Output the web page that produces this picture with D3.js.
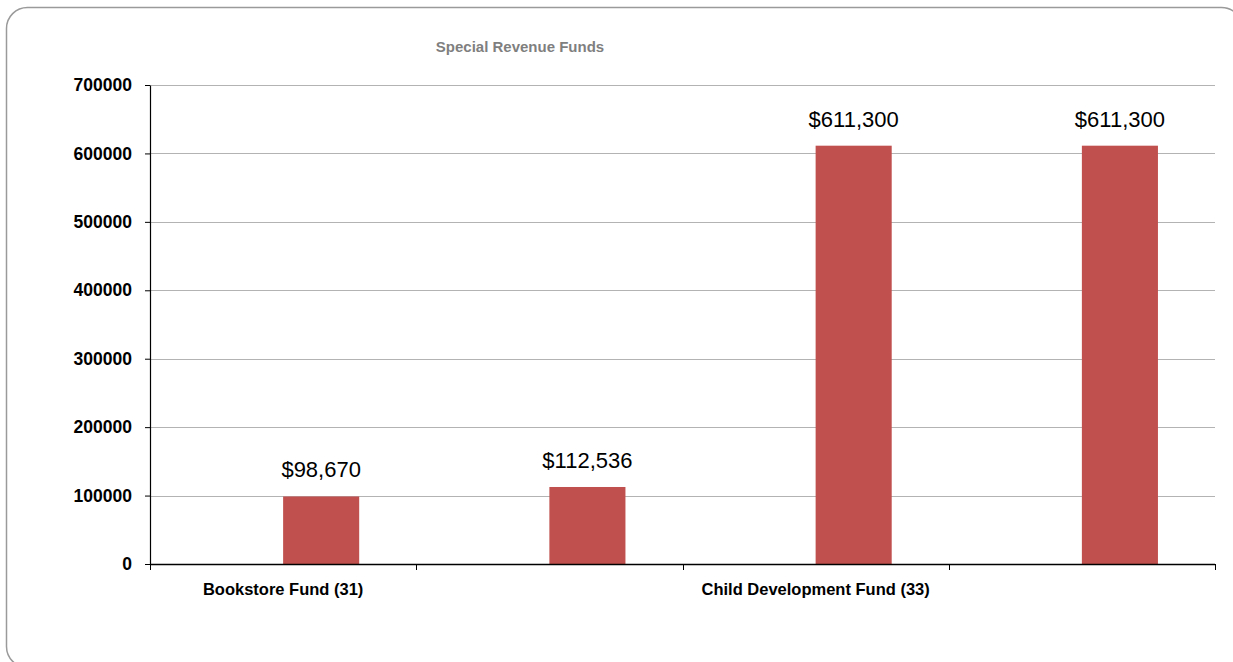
<!DOCTYPE html>
<html>
<head>
<meta charset="utf-8">
<script src="https://cdn.jsdelivr.net/npm/d3@7"></script>
<style>
  html, body { margin: 0; padding: 0; background: #fff; }
  svg { display: block; }
  text { font-family: "Liberation Sans", Arial, sans-serif; }
</style>
</head>
<body>
<svg id="chart" width="1233" height="662"></svg>
<script>
// Special revenue funds: one slot per bar, labels only on the first slot of each fund
const categories = ["Bookstore Fund (31)", "", "Child Development Fund (33)", " "];
const values = [98670, 112536, 611300, 611300];
const yTicks = [0, 100000, 200000, 300000, 400000, 500000, 600000, 700000];
const title = "Special Revenue Funds";

const svg = d3.select("#chart");
const margin = { left: 150, right: 18, top: 85, bottom: 98 };
const W = 1233, H = 662;
const plotW = W - margin.left - margin.right;
const plotH = H - margin.top - margin.bottom;

// Outer rounded frame (runs past the right and bottom edges)
svg.append("rect")
  .attr("x", 6.5).attr("y", 7.5)
  .attr("width", 1236).attr("height", 660)
  .attr("rx", 21).attr("ry", 21)
  .attr("fill", "#fff")
  .attr("stroke", "#9a9a9a")
  .attr("stroke-width", 1.5);

svg.append("text")
  .attr("x", 520).attr("y", 52)
  .attr("text-anchor", "middle")
  .attr("font-size", 15)
  .attr("font-weight", "bold")
  .attr("fill", "#7f7f7f")
  .text(title);

const g = svg.append("g").attr("transform", `translate(${margin.left},${margin.top})`);

const x = d3.scaleBand().domain(categories).range([0, plotW]).paddingInner(0).paddingOuter(0);
const y = d3.scaleLinear().domain([0, 700000]).range([plotH, 0]);

// Horizontal gridlines
g.append("g")
  .selectAll("line")
  .data(yTicks.filter(d => d > 0))
  .join("line")
  .attr("x1", 0).attr("x2", plotW)
  .attr("y1", d => Math.round(y(d)) + 0.5).attr("y2", d => Math.round(y(d)) + 0.5)
  .attr("stroke", "#b3b3b3")
  .attr("stroke-width", 1);

// Bars sit in the second slot of a two-series cluster (gap width 150%)
const barW = x.bandwidth() / 3.5;
const gap = barW * 1.5;
g.append("g")
  .selectAll("rect")
  .data(values)
  .join("rect")
  .attr("x", (d, i) => x(categories[i]) + gap / 2 + barW)
  .attr("width", barW)
  .attr("y", d => y(d))
  .attr("height", d => plotH - y(d))
  .attr("fill", "#C0504D");

// Value labels
const fmt = d3.format("$,");
g.append("g")
  .selectAll("text")
  .data(values)
  .join("text")
  .attr("x", (d, i) => x(categories[i]) + gap / 2 + barW * 1.5)
  .attr("y", d => y(d) - 19)
  .attr("text-anchor", "middle")
  .attr("font-size", 22)
  .attr("fill", "#000")
  .text(d => fmt(d));

// Y axis
const yAxis = g.append("g")
  .call(d3.axisLeft(y).tickValues(yTicks).tickFormat(d3.format("d")).tickSize(5).tickSizeOuter(0));
yAxis.select(".domain").attr("stroke", "#000").attr("stroke-width", 1.2);
yAxis.selectAll(".tick line").attr("stroke", "#000");
yAxis.selectAll(".tick text")
  .attr("x", -18)
  .attr("font-size", 17.5)
  .attr("font-weight", "bold")
  .attr("fill", "#000")
  .attr("font-family", "Liberation Sans, Arial, sans-serif");

// X axis: tick marks at slot boundaries, labels centred in the slot
const xAxis = g.append("g").attr("transform", `translate(0,${plotH})`);
xAxis.append("line")
  .attr("x1", 0).attr("x2", plotW)
  .attr("y1", 0.5).attr("y2", 0.5)
  .attr("stroke", "#000").attr("stroke-width", 1.5);
const bounds = categories.map(c => x(c)).concat([plotW]);
xAxis.selectAll("line.tk")
  .data(bounds)
  .join("line")
  .attr("class", "tk")
  .attr("x1", d => Math.round(d) + 0.5).attr("x2", d => Math.round(d) + 0.5)
  .attr("y1", 0).attr("y2", 6)
  .attr("stroke", "#000");
xAxis.selectAll("text")
  .data(categories.filter(c => c.trim() !== ""))
  .join("text")
  .attr("x", d => x(d) + x.bandwidth() / 2)
  .attr("y", 31)
  .attr("text-anchor", "middle")
  .attr("font-size", 16.5)
  .attr("font-weight", "bold")
  .attr("fill", "#000")
  .text(d => d);
</script>
</body>
</html>
